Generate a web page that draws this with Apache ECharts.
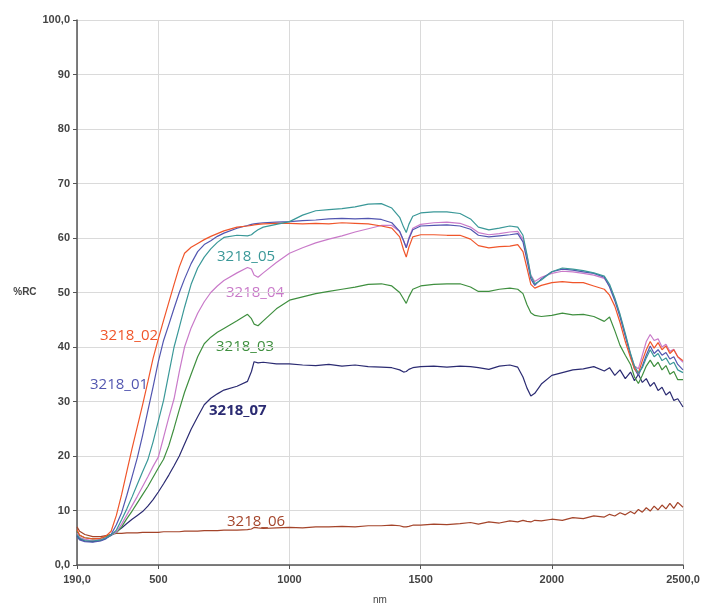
<!DOCTYPE html>
<html><head><meta charset="utf-8">
<script src="https://cdn.jsdelivr.net/npm/echarts@6/dist/echarts.min.js"></script>
<style>html,body{margin:0;padding:0;background:#fff}#c{width:714px;height:610px}</style>
</head><body><div id="c"></div>
<script>
const wavelengths = [190,200,220,250,280,300,320,340,360,380,400,420,440,460,480,500,520,540,560,580,600,625,650,675,700,725,750,800,840,855,865,880,900,950,1000,1050,1100,1150,1200,1250,1300,1350,1390,1420,1435,1445,1455,1470,1500,1550,1600,1650,1690,1720,1760,1800,1840,1870,1890,1905,1920,1935,1960,2000,2040,2080,2120,2160,2200,2220,2240,2260,2280,2300,2315,2330,2345,2360,2375,2390,2405,2420,2435,2450,2465,2480,2500];

const s3218_01 = [5.2,4.6,4.3,4.2,4.4,4.8,5.6,7.4,9.6,12.8,16.2,19.7,23.8,28.3,32.7,37.3,41.2,44.1,47.1,50.0,52.5,55.3,57.5,58.8,59.5,60.3,60.9,61.8,62.3,62.5,62.6,62.7,62.8,62.9,63.0,63.2,63.3,63.5,63.6,63.5,63.6,63.4,62.8,61.2,59.5,58.2,59.8,61.5,62.2,62.3,62.4,62.2,61.6,60.5,60.2,60.4,60.6,60.8,59.3,56.0,52.5,51.3,52.5,53.8,54.3,54.1,53.8,53.5,52.8,51.0,48.5,45.5,42.0,38.5,36.0,34.8,36.5,38.5,40.2,38.8,39.5,38.5,39.0,37.8,38.2,36.8,35.8];
const s3218_02 = [6.5,5.5,5.0,4.8,4.9,5.3,6.2,9.1,12.9,17.2,21.4,25.4,29.4,33.6,37.9,41.5,44.9,48.2,51.5,54.7,57.2,58.3,59.0,59.7,60.3,60.8,61.3,62.0,62.2,62.3,62.4,62.5,62.6,62.7,62.7,62.6,62.7,62.6,62.8,62.7,62.6,62.2,61.8,60.2,57.8,56.5,58.3,60.2,60.6,60.6,60.5,60.5,59.8,58.6,58.2,58.4,58.5,58.8,57.5,54.5,51.5,50.8,51.3,51.8,52.0,51.8,51.8,51.2,50.6,49.5,47.5,44.5,41.0,38.0,36.0,35.2,37.5,39.5,41.0,39.8,40.8,39.5,40.2,38.8,39.5,38.2,37.5];
const s3218_03 = [6.2,5.4,5.0,4.8,4.9,5.2,5.6,5.9,7.0,8.5,9.9,11.4,12.9,14.4,16.1,17.8,19.4,21.9,25.1,28.5,31.7,35.0,38.2,40.6,41.8,42.7,43.4,44.8,46.0,45.2,44.2,43.9,44.8,47.0,48.6,49.2,49.8,50.2,50.6,51.0,51.5,51.6,51.2,50.0,48.8,48.0,49.2,50.6,51.2,51.5,51.6,51.6,51.0,50.2,50.2,50.6,50.8,50.6,49.8,47.8,46.3,45.8,45.6,45.8,46.2,45.9,46.0,45.6,44.7,45.5,43.0,40.3,38.5,36.8,34.5,33.3,34.8,36.5,37.6,36.4,37.2,35.8,36.6,35.0,35.5,34.0,34.0];
const s3218_04 = [5.8,5.1,4.7,4.5,4.7,5.0,5.5,6.0,7.5,9.2,10.9,12.6,14.4,16.2,18.1,19.8,23.4,27.1,30.5,35.5,40.0,43.5,46.2,48.3,50.0,51.2,52.2,53.6,54.6,54.3,53.2,52.8,53.6,55.5,57.2,58.2,59.1,59.8,60.4,61.1,61.7,62.3,62.3,61.2,59.5,58.3,60.0,61.8,62.5,62.8,62.9,62.7,62.0,61.0,60.6,60.8,61.1,61.2,59.8,56.8,53.2,52.0,52.8,53.5,53.9,53.8,53.5,53.2,52.6,51.2,48.8,45.8,42.2,38.7,36.5,36.0,38.5,41.0,42.3,41.2,41.5,40.0,40.5,39.2,39.6,38.2,37.2];
const s3218_05 = [5.6,4.9,4.5,4.4,4.6,5.0,5.5,6.4,8.3,10.3,12.5,14.8,17.1,19.3,22.6,26.4,30.2,35.1,40.0,43.6,47.3,51.5,54.5,56.5,58.0,59.2,60.1,60.5,60.4,60.6,61.0,61.5,62.0,62.5,63.0,64.2,65.0,65.2,65.4,65.7,66.2,66.3,65.5,63.8,62.0,61.0,62.5,64.0,64.6,64.8,64.8,64.5,63.5,62.0,61.5,61.8,62.2,62.0,60.5,57.0,53.0,51.6,52.3,53.8,54.5,54.3,54.0,53.6,53.0,51.5,49.0,46.0,42.5,38.8,36.5,35.2,36.2,38.0,39.5,38.2,38.8,37.5,38.0,36.8,37.2,35.8,35.3];
const s3218_06 = [7.0,6.2,5.6,5.2,5.2,5.4,5.6,5.8,5.8,5.9,5.9,5.9,6.0,6.0,6.0,6.0,6.1,6.1,6.1,6.1,6.2,6.2,6.2,6.3,6.3,6.3,6.4,6.4,6.5,6.6,6.9,6.8,6.7,6.8,6.9,6.8,7.0,7.0,7.1,7.0,7.2,7.2,7.3,7.2,7.0,7.0,7.1,7.3,7.3,7.5,7.4,7.6,7.8,7.5,7.9,7.7,8.1,7.9,8.2,8.0,7.9,8.2,8.1,8.4,8.2,8.7,8.5,9.0,8.8,9.3,9.0,9.6,9.2,9.8,9.4,10.2,9.7,10.5,9.9,10.8,10.1,11.0,10.3,11.3,10.4,11.5,10.6];
const s3218_07 = [5.4,4.8,4.4,4.3,4.5,4.9,5.4,6.1,6.8,7.6,8.4,9.1,9.8,10.8,12.0,13.4,14.9,16.5,18.2,20.0,22.2,24.9,27.2,29.4,30.6,31.4,32.1,32.8,33.7,35.5,37.3,37.1,37.2,36.9,36.9,36.7,36.6,36.8,36.5,36.7,36.4,36.3,36.2,35.8,35.4,35.5,35.9,36.2,36.4,36.5,36.3,36.5,36.4,36.2,35.9,36.5,36.7,36.3,34.5,32.5,31.0,31.5,33.2,34.8,35.3,35.8,36.0,36.4,35.6,36.2,34.8,35.8,34.2,35.4,33.8,35.0,33.5,34.2,32.8,33.5,32.0,32.6,31.2,31.8,30.2,30.5,29.0];

const seriesNames = ['3218_06','3218_07','3218_03','3218_04','3218_01','3218_02','3218_05'];
const seriesValues = {'3218_01':s3218_01,'3218_02':s3218_02,'3218_03':s3218_03,'3218_04':s3218_04,'3218_05':s3218_05,'3218_06':s3218_06,'3218_07':s3218_07};
const colors = {'3218_01':'#5256b0','3218_02':'#f0552a','3218_03':'#3f8f3f','3218_04':'#c97ac9','3218_05':'#3a9898','3218_06':'#a4442a','3218_07':'#2b2b72'};
const xTicks = [190,500,1000,1500,2000,2500];
const labelPos = {'3218_05':[217,249],'3218_04':[226,285],'3218_02':[100,328],'3218_03':[216,339],'3218_01':[90,377],'3218_07':[209,403],'3218_06':[227,514]};

const chart = echarts.init(document.getElementById('c'), null, {renderer:'canvas'});
const axisTxt = {color:'#444', fontSize:11, fontFamily:'Liberation Sans, Arial, sans-serif', fontWeight:'bold'};
chart.setOption({
  animation:false,
  grid:{left:77,right:31,top:20,bottom:40},
  xAxis:{type:'value',min:190,max:2500,
    name:'nm',nameLocation:'middle',nameGap:30,nameTextStyle:{color:'#444',fontSize:10,fontFamily:'Liberation Sans, Arial, sans-serif'},
    axisLine:{lineStyle:{color:'#555',width:1.5}},
    axisTick:{customValues:xTicks,length:4,inside:false,lineStyle:{color:'#555'}},
    axisLabel:Object.assign({customValues:xTicks,margin:9,formatter:v=>(v===190?'190,0':v===2500?'2500,0':String(v))},axisTxt),
    splitLine:{show:true,customValues:xTicks,lineStyle:{color:'#dadada',width:1}}},
  yAxis:{type:'value',min:0,max:100,interval:10,
    name:'%RC',nameLocation:'middle',nameGap:38,nameRotate:0,nameTextStyle:{color:'#444',fontSize:10,fontFamily:'Liberation Sans, Arial, sans-serif',fontWeight:'bold'},
    axisLine:{show:true,lineStyle:{color:'#555',width:1.5}},
    axisTick:{show:true,length:4,lineStyle:{color:'#555'}},
    axisLabel:Object.assign({margin:7,formatter:v=>(v===0?'0,0':v===100?'100,0':String(v))},axisTxt),
    splitLine:{show:true,lineStyle:{color:'#dadada',width:1}}},
  series:seriesNames.map(n=>({name:n,type:'line',showSymbol:false,smooth:false,
    data:wavelengths.map((w,i)=>[w,seriesValues[n][i]]),
    lineStyle:{color:colors[n],width:1.2},itemStyle:{color:colors[n]}})),
  graphic:seriesNames.map(n=>({type:'text',left:labelPos[n][0],top:labelPos[n][1],
    style:{text:n,fill:colors[n],fontSize:15,fontFamily:'Open Sans, sans-serif',fontWeight:n==='3218_07'?'bold':'normal'}}))
});
</script></body></html>
